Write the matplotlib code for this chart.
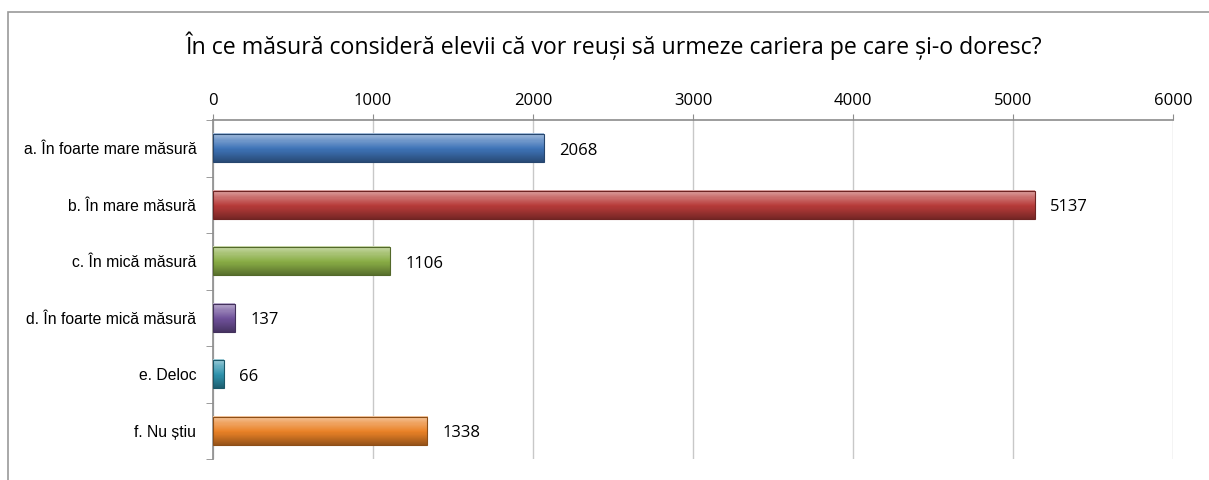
import numpy as np
import matplotlib.pyplot as plt
from matplotlib.colors import to_rgb
from matplotlib.patches import Rectangle

# ==========================================
# DATA
# ==========================================
categories = ['a. În foarte mare măsură', 'b. În mare măsură', 'c. În mică măsură',
              'd. În foarte mică măsură', 'e. Deloc', 'f. Nu știu']
values = [2068, 5137, 1106, 137, 66, 1338]
bar_colors = ['#3f74b8', '#b83c3a', '#8aae46', '#6f519a', '#2f93ad', '#ea8227']
x_ticks = [0, 1000, 2000, 3000, 4000, 5000, 6000]
title = 'În ce măsură consideră elevii că vor reuși să urmeze cariera pe care și-o doresc?'

# ==========================================
# FIGURE
# ==========================================
fig = plt.figure(figsize=(12.09, 4.8), dpi=100)
fig.patches.append(Rectangle((8 / 1209, -0.1), 1.2, 1 - 12 / 480 + 0.1,
                             transform=fig.transFigure, fill=False,
                             edgecolor='#9a9a9a', linewidth=1.2))

ax = fig.add_axes([213 / 1209, 1 - 459 / 480, 960 / 1209, 339 / 480])
n = len(categories)
ypos = np.arange(n)
h = 0.5

# shading profile for the pseudo-3D bar look
prof = np.concatenate([np.linspace(0.55, 0.25, 8), np.linspace(0.25, -0.05, 10),
                       np.linspace(-0.05, -0.35, 12)])

for y, v, c in zip(ypos, values, bar_colors):
    base = np.array(to_rgb(c))
    img = np.zeros((len(prof), 2, 3))
    for i, p in enumerate(prof):
        if p >= 0:
            col = base + (1 - base) * p
        else:
            col = base * (1 + p)
        img[i, :, :] = col
    ax.imshow(img, extent=(0, v, y + h / 2, y - h / 2), aspect='auto',
              interpolation='bilinear', zorder=3)
    ax.add_patch(Rectangle((0, y - h / 2), v, h, fill=False,
                           edgecolor=base * 0.6, linewidth=0.8, zorder=4))
    ax.text(v + 95, y + 0.04, str(v), va='center', ha='left', fontsize=12,
            family='Open Sans', color='black')

ax.set_xlim(0, 6000)
ax.set_ylim(n - 0.5, -0.5)
ax.set_xticks(x_ticks)
ax.xaxis.tick_top()
ax.tick_params(axis='x', direction='out', length=4, color='#8c8c8c',
               labelsize=12, pad=4)
for lab in ax.get_xticklabels():
    lab.set_family('Open Sans')
ax.grid(axis='x', color='#c8c8c8', linewidth=1.0, zorder=0)
ax.set_axisbelow(True)

ax.set_yticks(ypos)
ax.set_yticklabels(categories, fontsize=11.3, family='Liberation Sans')
ax.tick_params(axis='y', which='major', length=0, pad=12)
ax.set_yticks(np.arange(-0.5, n), minor=True)
ax.tick_params(axis='y', which='minor', direction='out', length=5, color='#8c8c8c')

for s in ['right', 'bottom']:
    ax.spines[s].set_visible(False)
for s in ['top', 'left']:
    ax.spines[s].set_color('#8c8c8c')
    ax.spines[s].set_linewidth(1.2)

fig.text(614 / 1209, 1 - 46 / 480, title, ha='center', va='center',
         fontsize=16.7, family='Open Sans')

fig.savefig('out.png', dpi=100)
